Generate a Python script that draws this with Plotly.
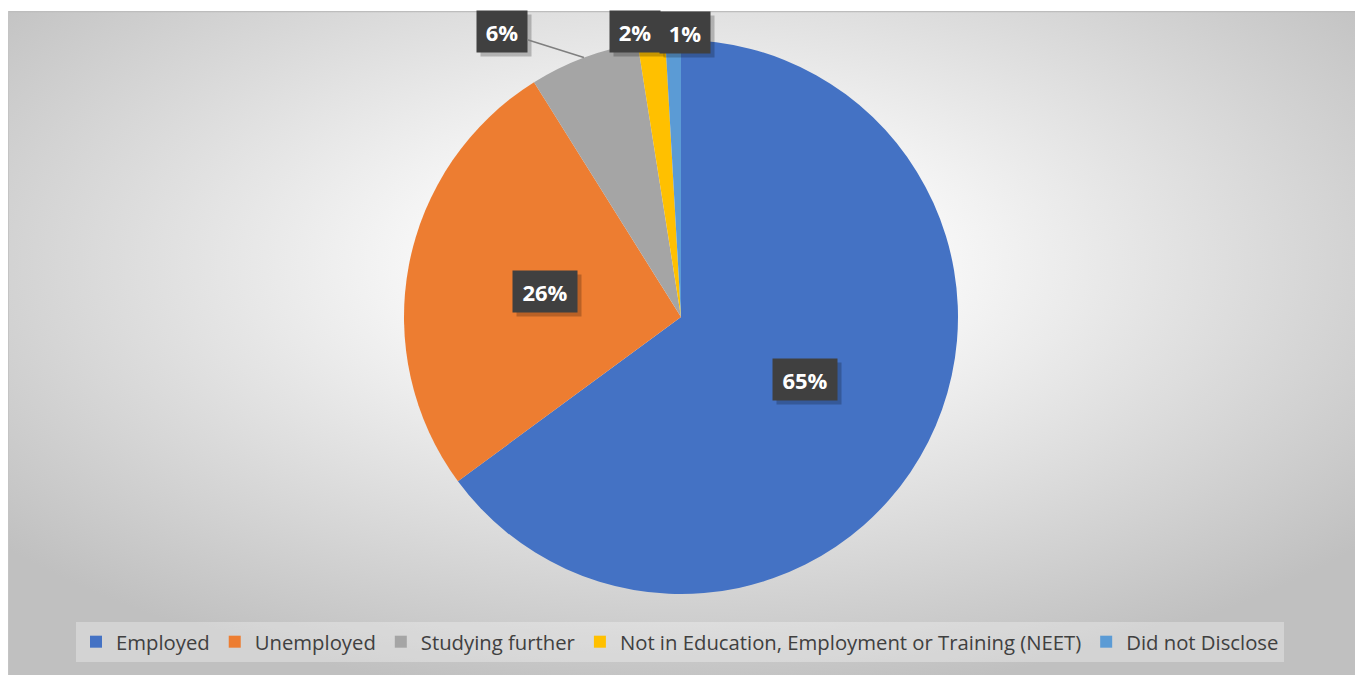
import math
import base64
import plotly.graph_objects as go

# ---------------- data ----------------
categories = ["Employed", "Unemployed", "Studying further",
              "Not in Education, Employment or Training (NEET)", "Did not Disclose"]
values = [64.9, 26.2, 6.4, 1.6, 0.9]
colors = ["#4472C4", "#ED7D31", "#A5A5A5", "#FFC000", "#5B9BD5"]

# ---------------- layout constants ----------------
W, H = 1355, 675
CX, CY, R = 681, 317, 277  # pie centre / radius in pixels

# label placement style: inside labels at half radius, outside ones offset in px
inside_frac = 0.5
outside_offsets = {2: (-82, -26), 3: (-16, -10), 4: (12, -8)}
PAD = 7

fig = go.Figure()

fig.add_trace(go.Pie(
    labels=categories,
    values=values,
    sort=False,
    direction="clockwise",
    rotation=0,
    marker=dict(colors=colors, line=dict(width=0)),
    textinfo="none",
    hoverinfo="label+percent",
    domain=dict(x=[(CX - R) / W, (CX + R) / W], y=[1 - (CY + R) / H, 1 - (CY - R) / H]),
    showlegend=True,
))

# background gradient (svg)
svg = f'''<svg xmlns="http://www.w3.org/2000/svg" width="1345" height="664" viewBox="0 0 1345 664">
<defs><radialGradient id="g" cx="0.5" cy="0.38" r="0.66">
<stop offset="0" stop-color="#ffffff"/>
<stop offset="0.3" stop-color="#f6f6f6"/>
<stop offset="1" stop-color="#c0c0c0"/>
</radialGradient></defs>
<rect x="0" y="0" width="1345" height="664" fill="url(#g)"/>
<line x1="0" y1="0.5" x2="1345" y2="0.5" stroke="#bdbdbd" stroke-width="1.5"/>
<line x1="0.5" y1="0" x2="0.5" y2="664" stroke="#c4c4c4" stroke-width="1"/>
</svg>'''
src = "data:image/svg+xml;base64," + base64.b64encode(svg.encode()).decode()
fig.add_layout_image(dict(source=src, xref="paper", yref="paper",
                          x=8 / W, y=1 - 11 / H, sizex=(W - 8) / W, sizey=(H - 11) / H,
                          xanchor="left", yanchor="top", sizing="stretch", layer="below"))

# ---------------- data labels ----------------
total = sum(values)
cum = 0.0
lab_font = dict(family="Open Sans", size=22, color="white")
shadows, labels = [], []
for i, v in enumerate(values):
    mid = (cum + v / 2) / total * 2 * math.pi
    cum += v
    s = f"{round(v / total * 100)}%"
    txt = f"<b>{s}</b>"
    bw = 14 * len(s) + 8
    bh = 27
    if i in outside_offsets:
        px = CX + math.sin(mid) * R
        py = CY - math.cos(mid) * R
        ax, ay = outside_offsets[i]
        show_line = (i == 2)
        common = dict(x=px / W, y=1 - py / H, xref="paper", yref="paper",
                      showarrow=True, ax=ax, ay=ay, width=bw, height=bh,
                      borderpad=PAD, arrowhead=0, standoff=0)
        shadows.append(dict(common, ax=ax + 4, ay=ay + 4, text=" ",
                            bgcolor="rgba(0,0,0,0.22)", arrowcolor="rgba(0,0,0,0)"))
        labels.append(dict(common, text=txt, bgcolor="#404040", font=lab_font,
                           arrowcolor="#7f7f7f" if show_line else "rgba(0,0,0,0)",
                           arrowwidth=1.5))
    else:
        px = CX + math.sin(mid) * R * inside_frac
        py = CY - math.cos(mid) * R * inside_frac
        common = dict(xref="paper", yref="paper", showarrow=False,
                      width=bw, height=bh, borderpad=PAD)
        shadows.append(dict(common, x=(px + 4) / W, y=1 - (py + 4) / H, text=" ",
                            bgcolor="rgba(0,0,0,0.22)"))
        labels.append(dict(common, x=px / W, y=1 - py / H, text=txt,
                           bgcolor="#404040", font=lab_font))

for a in shadows + labels:
    fig.add_annotation(**a)

fig.update_layout(
    width=W, height=H,
    margin=dict(l=0, r=0, t=0, b=0),
    paper_bgcolor="white",
    plot_bgcolor="white",
    font=dict(family="Open Sans", color="#404040"),
    legend=dict(orientation="h", x=76 / W, y=1 - 622 / H, xanchor="left", yanchor="top",
                bgcolor="rgba(255,255,255,0.3)", font=dict(family="Open Sans", size=20.3, color="#404040"),
                itemclick=False, itemdoubleclick=False, tracegroupgap=0),
)

fig.write_html("out.html")
